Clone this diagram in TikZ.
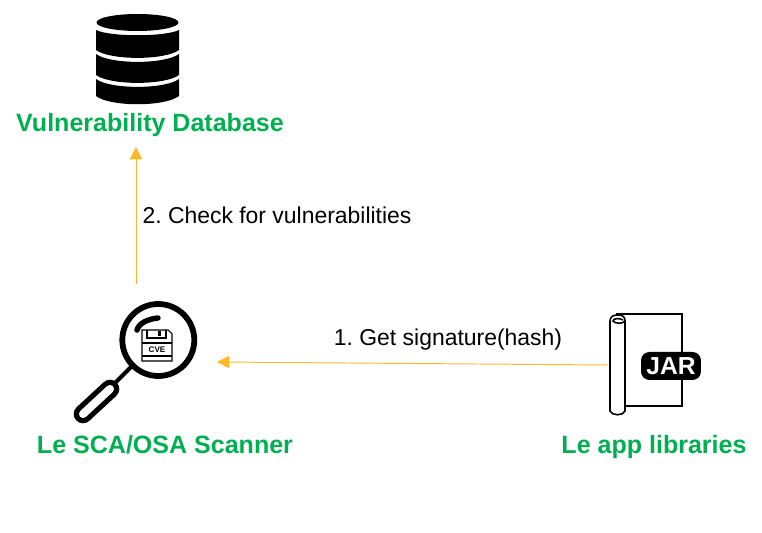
\documentclass[tikz,border=0pt]{standalone}
\usepackage{fontspec}
\setmainfont{Liberation Sans}
\frenchspacing
\definecolor{labelgreen}{RGB}{0,176,80}
\definecolor{arrowgold}{RGB}{255,184,40}
\usetikzlibrary{arrows.meta}
\tikzset{
	title/.style={text=labelgreen,font=\fontsize{14.25}{16}\selectfont\bfseries,inner sep=0pt},
	step label/.style={text=black,font=\fontsize{13.05}{15}\selectfont,inner sep=0pt},
	flow/.style={arrowgold,line width=0.55pt,-{Triangle[length=7pt,width=7pt]}},
	icon box/.style={inner sep=0pt,outer sep=0pt}
}
\begin{document}
\begin{tikzpicture}[x=0.02cm,y=-0.02cm]
	\useasboundingbox (0,0) rectangle (762,533);

	% database
	\fill (137.5,22.5) ellipse [x radius=0.82cm,y radius=0.17cm];
	\fill (96,30) .. controls (110,37) and (165,37) .. (179,30) -- (179,50) .. controls (165,60.5) and (110,60.5) .. (96,50) -- cycle;
	\fill (96,54) .. controls (110,64.5) and (165,64.5) .. (179,54) -- (179,75) .. controls (165,85.5) and (110,85.5) .. (96,75) -- cycle;
	\fill (96,79) .. controls (110,89.5) and (165,89.5) .. (179,79) -- (179,96) .. controls (165,107) and (110,107) .. (96,96) -- cycle;
	\node (dbase) [icon box,minimum width=1.66cm,minimum height=2.88cm] at (136,75) {};
	\node (dbaseTitle) [title] at (150,125) {Vulnerability Database};

	% magnifier
	\draw [line width=3.3pt] (158.3,340) circle [radius=0.72cm];
	\draw [line width=3.1pt,line cap=round] (137,330) .. controls (139,323) and (148,319) .. (158,318);
	\draw [line width=2.4pt] (132,366) -- (113,385);
	\draw [line width=10.6pt,line cap=round] (110,389) -- (83,414);
	\draw [line width=4.6pt,line cap=round,white] (110,389) -- (83,414);

	% disk inside the lens
	\draw [line width=0.6pt] (142,330) -- (168,330) -- (172,334) -- (172,361) -- (142,361) -- cycle;
	\draw [line width=0.6pt] (147,330) -- (147,338) -- (166,338) -- (166,330);
	\fill (158,331) rectangle (161,336);
	\draw [line width=0.6pt] (142,343) -- (172,343) (142,356) -- (172,356);
	\node (cveText) [inner sep=0pt,font=\fontsize{4.6}{5}\selectfont\bfseries] at (157,349.5) {CVE};
	\node (scanner) [icon box,minimum width=3.24cm,minimum height=3.12cm] at (136,362) {};
	\node (scannerTitle) [title] at (165,445) {Le SCA/OSA Scanner};

	% jar file
	\draw [line width=0.9pt] (616,314) -- (682,314) -- (682,406) -- (625,406);
	\draw [line width=0.9pt,fill=white] (610,321) .. controls (610,316) and (614,315) .. (618,315) .. controls (624,315) and (625,318) .. (625,321) -- (625,411) .. controls (623,416) and (612,416) .. (610,411) -- cycle;
	\draw [line width=0.9pt] (625,321) .. controls (623,324) and (615,324) .. (613,321) .. controls (613,318) and (620,318) .. (623,320);
	\node (jarTag) [icon box,fill=black,rounded corners=0.17cm,minimum width=1.2cm,minimum height=0.56cm,text=white,font=\fontsize{14}{16}\selectfont\bfseries] at (671,366) {JAR};
	\node (jar) [icon box,minimum width=1.52cm,minimum height=2cm] at (646,365) {};
	\node (jarTitle) [title] at (654,447) {Le app libraries};

	\draw [flow] (jar.west) -- (scanner.east) node (getLabel) [step label,midway,yshift=0.48cm,xshift=0.71cm] {1. Get signature(hash)};
	\draw [flow] (scanner.north) -- (dbase.south) node (checkLabel) [step label,midway,xshift=2.82cm] {2. Check for vulnerabilities};
\end{tikzpicture}
\end{document}
